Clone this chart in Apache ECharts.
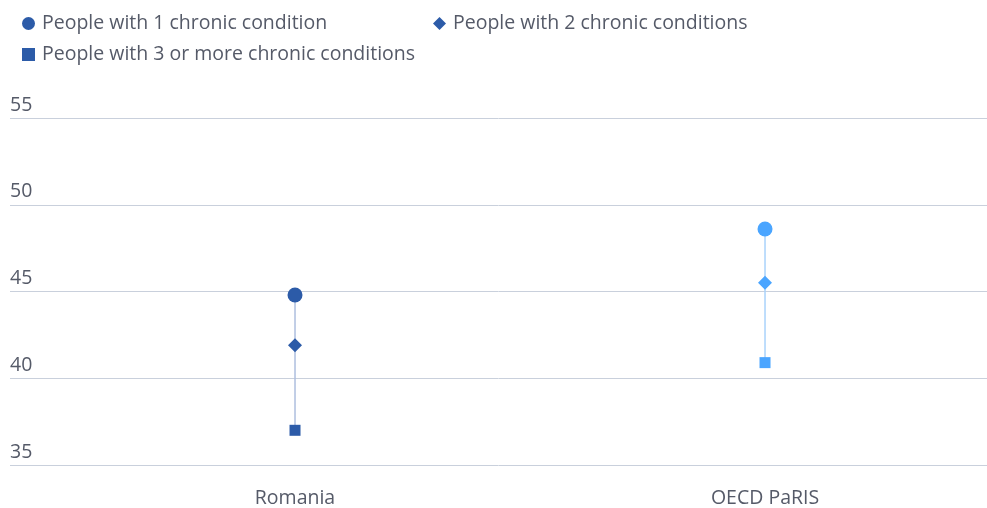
<!DOCTYPE html>
<html>
<head>
<meta charset="utf-8">
<script src="https://cdn.jsdelivr.net/npm/echarts@6/dist/echarts.min.js"></script>
<style>
  html, body { margin: 0; padding: 0; background: #fff; }
  #chart { width: 987px; height: 508px; }
</style>
</head>
<body>
<div id="chart"></div>
<script>
// data
const categories = ['Romania', 'OECD PaRIS'];
const oneCondition = [44.8, 48.6];
const twoConditions = [41.9, 45.5];
const threeOrMore = [37.0, 40.9];
const yTicks = [35, 40, 45, 50, 55];
const seriesNames = [
  'People with 1 chronic condition',
  'People with 2 chronic conditions',
  'People with 3 or more chronic conditions'
];

const catColors = ['#2c5ba8', '#4aa5ff'];
const stemColors = ['#aebfdf', '#a9d3fb'];
const textColor = '#555a68';
const fontFamily = '"Open Sans", "Noto Sans", sans-serif';

function points(values) {
  return values.map((v, i) => ({
    value: [i, v],
    itemStyle: { color: catColors[i], opacity: 1 }
  }));
}

const chart = echarts.init(document.getElementById('chart'));

const option = {
  animation: false,
  legend: {
    left: 17,
    top: 8,
    width: 900,
    itemWidth: 13,
    itemHeight: 13,
    itemGap: 10,
    textStyle: {
      fontFamily: fontFamily,
      fontSize: 19.5,
      color: textColor,
      width: 381,
      lineHeight: 21,
      padding: [0, 0, 0, 2]
    },
    data: [
      { name: seriesNames[0], icon: 'circle', itemStyle: { color: catColors[0], opacity: 1 } },
      { name: seriesNames[1], icon: 'diamond', itemStyle: { color: catColors[0], opacity: 1 } },
      { name: seriesNames[2], icon: 'rect', itemStyle: { color: catColors[0], opacity: 1 } }
    ]
  },
  grid: {
    left: 10,
    right: 0,
    top: 118,
    bottom: 42,
    containLabel: false
  },
  xAxis: {
    type: 'value',
    min: -0.6064,
    max: 1.4723,
    axisLine: { show: false },
    axisTick: { show: false },
    splitLine: { show: false },
    axisLabel: {
      customValues: [0, 1],
      formatter: v => categories[Math.round(v)] || '',
      fontFamily: fontFamily,
      fontSize: 19.5,
      color: textColor,
      margin: 23
    }
  },
  yAxis: {
    type: 'value',
    min: yTicks[0],
    max: yTicks[yTicks.length - 1],
    interval: 5,
    axisLine: { show: false },
    axisTick: { show: false },
    splitLine: { lineStyle: { color: '#c9d0dc', width: 1 } },
    axisLabel: {
      inside: true,
      margin: 0,
      verticalAlign: 'bottom',
      padding: [0, 0, 3, 0],
      fontFamily: fontFamily,
      fontSize: 19.5,
      color: textColor
    }
  },
  series: [
    {
      type: 'custom',
      name: 'stem',
      silent: true,
      z: 1,
      data: categories.map((c, i) => [i, oneCondition[i], threeOrMore[i]]),
      renderItem: function (params, api) {
        const i = api.value(0);
        const top = api.coord([i, api.value(1)]);
        const bottom = api.coord([i, api.value(2)]);
        return {
          type: 'line',
          shape: { x1: top[0], y1: top[1], x2: bottom[0], y2: bottom[1] },
          style: { stroke: stemColors[i], lineWidth: 1.5 }
        };
      }
    },
    {
      type: 'scatter',
      name: seriesNames[0],
      symbol: 'circle',
      symbolSize: 15,
      z: 3,
      data: points(oneCondition)
    },
    {
      type: 'scatter',
      name: seriesNames[1],
      symbol: 'diamond',
      symbolSize: 14,
      z: 3,
      data: points(twoConditions)
    },
    {
      type: 'scatter',
      name: seriesNames[2],
      symbol: 'rect',
      symbolSize: 11,
      z: 3,
      data: points(threeOrMore)
    }
  ]
};

chart.setOption(option);
window.addEventListener('resize', () => {
  chart.resize();
});
</script>
</body>
</html>
